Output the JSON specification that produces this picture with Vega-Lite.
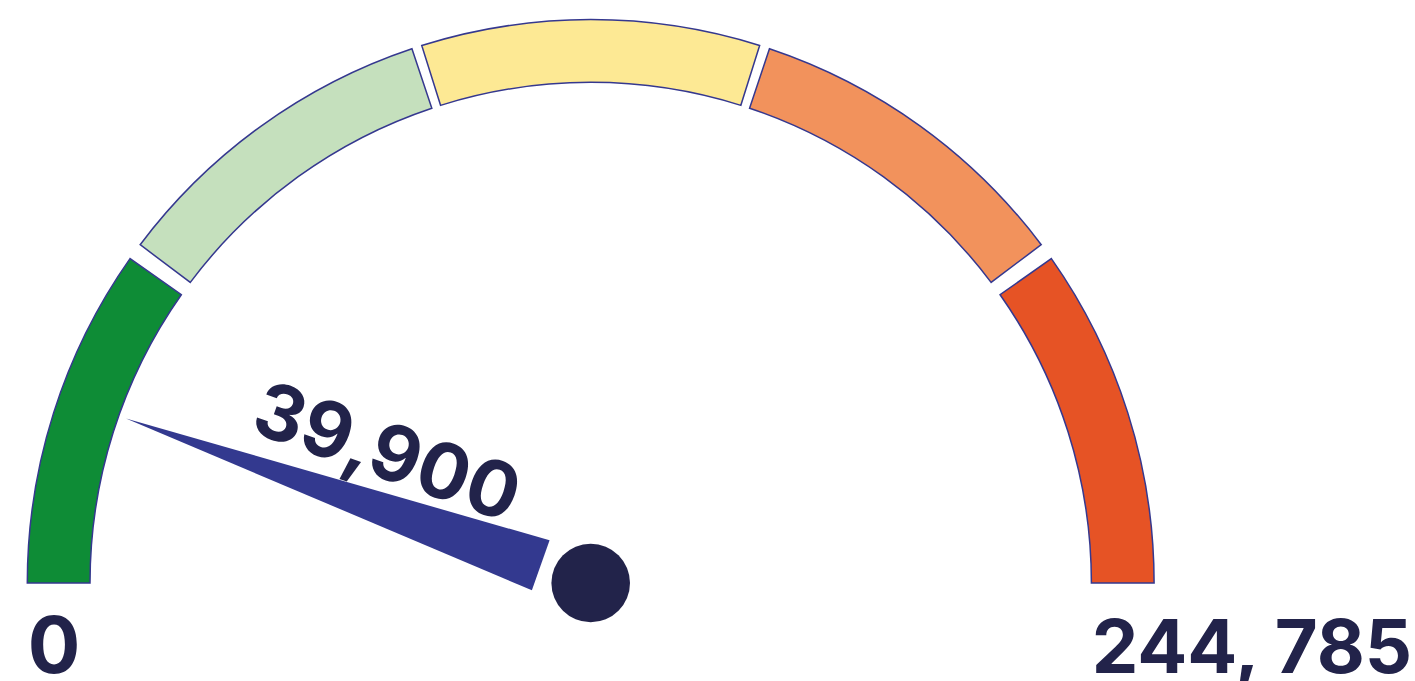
{
  "$schema": "https://vega.github.io/schema/vega-lite/v6.json",
  "width": 1415,
  "height": 681,
  "autosize": "none",
  "padding": 0,
  "background": "white",
  "config": {"view": {"stroke": null}},
  "datasets": {
    "bands": [
      {"band": "1", "start": 0, "end": 35.15},
      {"band": "2", "start": 36.9, "end": 71.5},
      {"band": "3", "start": 72.55, "end": 107.45},
      {"band": "4", "start": 108.5, "end": 143.1},
      {"band": "5", "start": 144.85, "end": 180}
    ],
    "reading": [{"value": 39900, "label": "39,900", "deg": 19.5}],
    "minimum": [{"label": "0"}],
    "maximum": [{"label": "244, 785"}]
  },
  "layer": [
    {
      "data": {"name": "bands"},
      "mark": {"type": "arc", "stroke": "#35388f", "strokeWidth": 1.5},
      "encoding": {
        "x": {"datum": 0, "type": "quantitative", "scale": {"domain": [-590.7, 824.3], "nice": false, "zero": false}, "axis": null},
        "y": {"datum": 0, "type": "quantitative", "scale": {"domain": [-98, 583], "nice": false, "zero": false}, "axis": null},
        "theta": {"field": "start", "type": "quantitative", "stack": null, "scale": {"domain": [0, 180], "range": [-1.5707963, 1.5707963]}},
        "theta2": {"field": "end"},
        "radius": {"datum": 563.4, "type": "quantitative", "scale": {"type": "linear", "domain": [0, 1000], "range": [0, 1000], "zero": true, "nice": false}},
        "radius2": {"datum": 500.7},
        "color": {"field": "band", "type": "nominal", "legend": null, "scale": {"domain": ["1", "2", "3", "4", "5"], "range": ["#0e8c36", "#c5e0bd", "#fde994", "#f2925c", "#e65325"]}}
      }
    },
    {
      "data": {"name": "reading"},
      "mark": {"type": "point", "shape": "M -0.986 0 L -0.106 -0.053 L -0.106 0.053 Z", "filled": true, "size": 1000000, "color": "#33398f", "opacity": 1, "strokeWidth": 0},
      "encoding": {
        "x": {"datum": 0, "type": "quantitative"},
        "y": {"datum": 0, "type": "quantitative"},
        "angle": {"field": "deg", "type": "quantitative", "scale": {"domain": [0, 360], "range": [0, 360]}}
      }
    },
    {
      "data": {"name": "reading"},
      "mark": {"type": "circle", "size": 6178, "color": "#22234a", "opacity": 1},
      "encoding": {
        "x": {"datum": 0, "type": "quantitative"},
        "y": {"datum": 0, "type": "quantitative"}
      }
    },
    {
      "data": {"name": "reading"},
      "mark": {"type": "text", "font": "Inter", "fontWeight": "bold", "fontSize": 77, "color": "#22234a", "align": "center", "baseline": "alphabetic", "dy": -29},
      "encoding": {
        "x": {"datum": 0, "type": "quantitative"},
        "y": {"datum": 0, "type": "quantitative"},
        "theta": {"field": "deg", "type": "quantitative", "scale": {"domain": [0, 180], "range": [-1.5707963, 1.5707963]}},
        "radius": {"datum": 235.5, "type": "quantitative"},
        "angle": {"field": "deg", "type": "quantitative", "scale": {"domain": [0, 360], "range": [0, 360]}},
        "text": {"field": "label"}
      }
    },
    {
      "data": {"name": "minimum"},
      "mark": {"type": "text", "font": "Inter", "fontWeight": "bold", "fontSize": 78, "color": "#22234a", "align": "center", "baseline": "alphabetic", "dy": 90},
      "encoding": {
        "x": {"datum": 0, "type": "quantitative"},
        "y": {"datum": 0, "type": "quantitative"},
        "theta": {"datum": 0, "type": "quantitative"},
        "radius": {"datum": 536.7, "type": "quantitative"},
        "text": {"field": "label"}
      }
    },
    {
      "data": {"name": "maximum"},
      "mark": {"type": "text", "font": "Inter", "fontWeight": "bold", "fontSize": 74, "color": "#22234a", "align": "left", "baseline": "alphabetic", "dy": 90},
      "encoding": {
        "x": {"datum": 0, "type": "quantitative"},
        "y": {"datum": 0, "type": "quantitative"},
        "theta": {"datum": 180, "type": "quantitative"},
        "radius": {"datum": 501, "type": "quantitative"},
        "text": {"field": "label"}
      }
    }
  ]
}
